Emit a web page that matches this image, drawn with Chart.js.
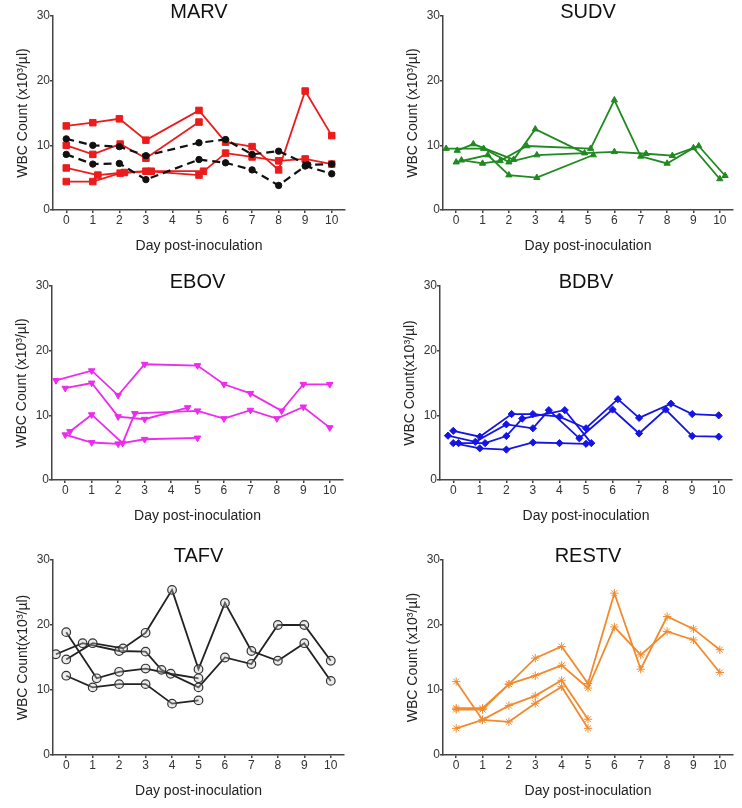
<!DOCTYPE html>
<html>
<head>
<meta charset="utf-8">
<script src="https://cdn.jsdelivr.net/npm/chart.js@4.4.1/dist/chart.umd.min.js"></script>
<style>
  body { margin: 0; background: #fff; }
  #page { position: relative; width: 742px; height: 808px; overflow: hidden; }
  canvas { position: absolute; }
</style>
</head>
<body>
<div id="page">
  <canvas id="marv" width="371" height="260" style="left:0;top:0"></canvas>
  <canvas id="sudv" width="371" height="260" style="left:371px;top:0"></canvas>
  <canvas id="ebov" width="371" height="260" style="left:0;top:270px"></canvas>
  <canvas id="bdbv" width="371" height="260" style="left:371px;top:270px"></canvas>
  <canvas id="tafv" width="371" height="261" style="left:0;top:544px"></canvas>
  <canvas id="restv" width="371" height="261" style="left:371px;top:544px"></canvas>
</div>
<script>
// tick labels
const days = [0, 1, 2, 3, 4, 5, 6, 7, 8, 9, 10];
const wbcTicks = [0, 10, 20, 30];

// [day, WBC] per animal (some points are nudged sideways in the original)
const marvA = [[0, 13.0], [1, 13.5], [2, 14.1], [3, 10.8], [5, 15.4], [6, 10.5], [7, 9.8], [8, 6.2], [9, 18.4], [10, 11.5]];
const marvB = [[0, 10.0], [1, 8.6], [2.03, 10.2], [3, 8.0], [5, 13.6]];
const marvC = [[0, 6.5], [1.19, 5.4], [2.19, 5.8], [3, 6.0], [5, 5.4], [6, 8.8], [7, 8.2], [8, 7.6], [9, 7.9], [10, 7.1]];
const marvD = [[0, 4.4], [1, 4.4], [2.03, 5.7], [3.2, 6.0], [5.17, 6.0]];
const marvE = [[0, 11.0], [1, 10.0], [2, 9.8], [3, 8.4], [5, 10.4], [6, 10.9], [7, 8.6], [8, 9.1], [9.1, 7.0], [10, 7.1]];
const marvF = [[0, 8.6], [1, 7.1], [2, 7.2], [3, 4.7], [5, 7.8], [6, 7.3], [7, 6.2], [8, 3.8], [9, 6.8], [10, 5.6]];

const sudvA = [[-0.38, 9.5], [1.04, 9.5], [2, 7.4], [3.06, 8.5], [6, 9.0], [7.2, 8.7], [8.2, 8.4], [9.2, 9.9], [10.2, 5.3]];
const sudvB = [[0.04, 9.2], [0.65, 10.2], [2.18, 7.8], [3, 12.5], [4.87, 8.8]];
const sudvC = [[0.2, 7.7], [1, 7.2], [1.67, 7.6], [2.68, 9.9], [5.1, 9.5], [6, 17.0], [7, 8.3], [8, 7.2], [9, 9.6], [10, 4.8]];
const sudvD = [[0, 7.4], [1.2, 8.5], [2, 5.4], [3.06, 5.0], [5.2, 8.5]];

const ebovA = [[-0.35, 15.4], [1, 16.9], [2, 13.1], [3, 17.9], [5, 17.7], [6, 14.8], [7, 13.4], [8.18, 10.7], [9, 14.8], [10, 14.8]];
const ebovB = [[0, 14.2], [1, 15.0], [2, 9.8], [3, 9.4], [4.63, 11.2]];
const ebovC = [[0.18, 7.5], [1, 10.1], [2.17, 5.7], [2.63, 10.3], [5, 10.7], [6, 9.5], [7, 10.8], [8, 9.5], [9, 11.3], [10, 8.1]];
const ebovD = [[0, 7.0], [1, 5.8], [2, 5.6], [3, 6.3], [5, 6.5]];

const bdbvA = [[0, 7.6], [1, 6.7], [2.2, 10.2], [3, 10.2], [4, 9.8], [5, 8.0], [6.2, 12.5], [7, 9.6], [8.2, 11.8], [9, 10.2], [10, 10.0]];
const bdbvB = [[-0.2, 6.85], [0.83, 5.9], [2, 8.6], [3, 8.0], [3.6, 10.8], [4.75, 6.45], [6, 10.9], [7, 7.2], [8, 10.9], [9, 6.8], [10, 6.7]];
const bdbvC = [[0.2, 5.7], [1.2, 5.7], [2, 6.8], [2.6, 9.5], [4.2, 10.8], [5.2, 5.7]];
const bdbvD = [[0, 5.7], [1, 4.9], [2, 4.7], [3, 5.8], [4, 5.7], [5, 5.6]];

const tafvA = [[0, 14.7], [1, 17.2], [2.15, 16.4], [3, 18.8], [4, 25.4], [5, 13.2], [6, 23.4], [7, 16.0], [8, 14.5], [9, 17.2], [10, 11.4]];
const tafvB = [[-0.39, 15.5], [0.62, 17.2], [2, 16.0], [3, 15.9], [3.6, 13.1], [5, 10.4], [6, 15.0], [7, 14.0], [8, 20.0], [9, 20.0], [10, 14.5]];
const tafvC = [[0, 18.9], [1.15, 11.8], [2, 12.8], [3, 13.3], [3.95, 12.5], [5, 11.8]];
const tafvD = [[0, 12.2], [1, 10.4], [2, 10.9], [3, 10.9], [4, 7.9], [5, 8.4]];

const restvA = [[0, 7.2], [1, 7.2], [2, 10.9], [3, 14.9], [4, 16.7], [5, 11.0], [6, 24.9], [7, 13.2], [8, 21.3], [9, 19.4], [10, 16.2]];
const restvB = [[0, 7.0], [1, 7.0], [2, 10.9], [3, 12.2], [4, 13.8], [5, 10.3], [6, 19.7], [7, 15.4], [8, 19.0], [9, 17.7], [10, 12.7]];
const restvC = [[0, 11.3], [1, 5.4], [2, 5.1], [3, 7.95], [4, 10.5], [5, 4.1]];
const restvD = [[0, 4.1], [1, 5.4], [2, 7.6], [3, 9.1], [4, 11.5], [5, 5.5]];

const font = 'Liberation Sans, Arial, sans-serif';
const axisColor = '#444';

function line(data, color, style, radius, extra) {
  return Object.assign({
    data: data.map(p => ({ x: p[0], y: p[1] })),
    borderColor: color,
    backgroundColor: color,
    borderWidth: 1.8,
    pointStyle: style,
    pointRadius: radius,
    pointBorderWidth: 1,
    pointBorderColor: color,
    pointBackgroundColor: color,
    tension: 0,
    fill: false
  }, extra || {});
}

function panel(id, title, yTitle, plotLeft, plotRight, datasets) {
  const axisTicks = { color: '#333', font: { family: font, size: 12 }, padding: 0 };
  const grid = { drawOnChartArea: false, drawTicks: true, tickLength: 3, color: axisColor, lineWidth: 1.5 };
  const border = { display: true, color: axisColor, width: 1.5 };
  new Chart(document.getElementById(id), {
    type: 'line',
    data: { datasets: datasets },
    options: {
      responsive: false,
      animation: false,
      layout: { padding: { left: plotLeft - 42, right: 371 - plotRight, top: 0, bottom: 0 } },
      plugins: {
        legend: { display: false },
        tooltip: { enabled: false },
        title: {
          display: true,
          text: title,
          fullSize: false,
          color: '#111',
          font: { family: font, size: 20, weight: 'normal' },
          padding: { top: 0, bottom: -8 }
        }
      },
      scales: {
        x: {
          type: 'linear',
          min: -0.5,
          max: 10.5,
          afterBuildTicks: s => { s.ticks = days.map(v => ({ value: v })); },
          afterFit: s => { s.height = 50; },
          ticks: Object.assign({ autoSkip: false, maxRotation: 0 }, axisTicks),
          grid: grid,
          border: border,
          title: { display: true, text: 'Day post-inoculation', color: '#222', font: { family: font, size: 14 }, padding: { top: 0, bottom: 5 } }
        },
        y: {
          min: 0,
          max: 30,
          afterBuildTicks: s => { s.ticks = wbcTicks.map(v => ({ value: v })); },
          afterFit: s => { s.width = 42; },
          ticks: axisTicks,
          grid: grid,
          border: border,
          title: { display: true, text: yTitle, color: '#222', font: { family: font, size: 14 }, padding: { top: 4, bottom: 0 } }
        }
      }
    }
  });
}

const red = '#ec1c1c';
const green = '#1f8a1f';
const magenta = '#ee2aee';
const blue = '#1414e6';
const orange = '#f28a2e';

panel('marv', 'MARV', 'WBC Count (x10³/µl)', 53, 345, [
  line(marvE, '#111', 'circle', 3.2, { borderDash: [8, 5], borderWidth: 2.2 }),
  line(marvF, '#111', 'circle', 3.2, { borderDash: [8, 5], borderWidth: 2.2 }),
  line(marvA, red, 'rect', 4.6),
  line(marvB, red, 'rect', 4.6),
  line(marvC, red, 'rect', 4.6),
  line(marvD, red, 'rect', 4.6)
]);

panel('sudv', 'SUDV', 'WBC Count (x10³/µl)', 72, 362, [
  line(sudvA, green, 'triangle', 3.6),
  line(sudvB, green, 'triangle', 3.6),
  line(sudvC, green, 'triangle', 3.6),
  line(sudvD, green, 'triangle', 3.6)
]);

panel('ebov', 'EBOV', 'WBC Count (x10³/µl)', 52, 343, [
  line(ebovA, magenta, 'triangle', 3.8, { pointRotation: 180 }),
  line(ebovB, magenta, 'triangle', 3.8, { pointRotation: 180 }),
  line(ebovC, magenta, 'triangle', 3.8, { pointRotation: 180 }),
  line(ebovD, magenta, 'triangle', 3.8, { pointRotation: 180 })
]);

panel('bdbv', 'BDBV', 'WBC Count(x10³/µl)', 69, 361, [
  line(bdbvA, blue, 'rectRot', 3.6),
  line(bdbvB, blue, 'rectRot', 3.6),
  line(bdbvC, blue, 'rectRot', 3.6),
  line(bdbvD, blue, 'rectRot', 3.6)
]);

const tafvDots = { pointBackgroundColor: 'rgba(200,200,200,0.35)', pointBorderColor: '#333', pointBorderWidth: 1.2 };
panel('tafv', 'TAFV', 'WBC Count(x10³/µl)', 53, 344, [
  line(tafvA, '#222', 'circle', 4.3, tafvDots),
  line(tafvB, '#222', 'circle', 4.3, tafvDots),
  line(tafvC, '#222', 'circle', 4.3, tafvDots),
  line(tafvD, '#222', 'circle', 4.3, tafvDots)
]);

panel('restv', 'RESTV', 'WBC Count (x10³/µl)', 72, 362, [
  line(restvA, orange, 'star', 4.2),
  line(restvB, orange, 'star', 4.2),
  line(restvC, orange, 'star', 4.2),
  line(restvD, orange, 'star', 4.2)
]);
</script>
</body>
</html>
